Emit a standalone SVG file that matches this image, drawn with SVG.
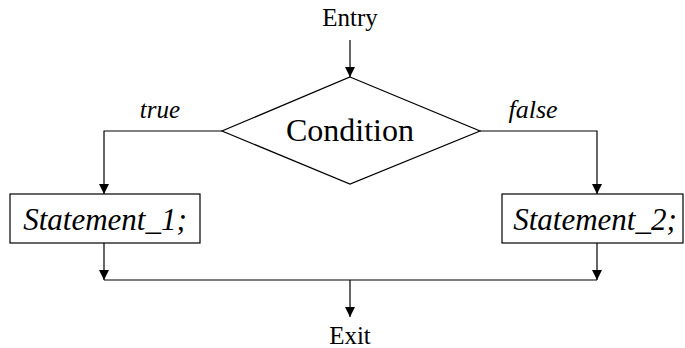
<svg xmlns="http://www.w3.org/2000/svg" width="685" height="348" viewBox="0 0 685 348">
<defs>
<marker id="ah" viewBox="0 0 10 10" refX="10" refY="5" markerWidth="10" markerHeight="10" markerUnits="userSpaceOnUse" orient="auto">
<path d="M0,0 L10,5 L0,10 z" fill="#000"/>
</marker>
<style>
.ln{fill:none;stroke:#000;stroke-width:1.2}
.sh{fill:#fff;stroke:#000;stroke-width:1.2}
text{font-family:"Liberation Serif","Times New Roman","DejaVu Serif",serif;fill:#000;text-anchor:middle}
.it{font-style:italic}
</style>
</defs>
<rect width="685" height="348" fill="#fff"/>
<g id="connectors">
<line class="ln" x1="350" y1="40" x2="350" y2="77" marker-end="url(#ah)"/>
<polyline class="ln" points="222,131 104,131 104,194" marker-end="url(#ah)"/>
<polyline class="ln" points="480,131 597,131 597,194" marker-end="url(#ah)"/>
<line class="ln" x1="104" y1="243" x2="104" y2="280" marker-end="url(#ah)"/>
<line class="ln" x1="597" y1="243" x2="597" y2="280" marker-end="url(#ah)"/>
<line class="ln" x1="104" y1="280" x2="597" y2="280"/>
<line class="ln" x1="350" y1="280" x2="350" y2="317" marker-end="url(#ah)"/>
<text class="it" x="160" y="118" font-size="25">true</text>
<text class="it" x="533" y="118" font-size="26">false</text>
</g>
<g id="entry"><text x="350" y="26" font-size="25">Entry</text></g>
<g id="condition">
<polygon class="sh" points="350,77 480,131 350,184 222,131"/>
<text x="350" y="141" font-size="32">Condition</text>
</g>
<g id="statement1">
<rect class="sh" x="10" y="194" width="190" height="49"/>
<text class="it" x="105" y="230" font-size="31">Statement_1;</text>
</g>
<g id="statement2">
<rect class="sh" x="502" y="194" width="181" height="49"/>
<text class="it" x="595" y="230" font-size="31">Statement_2;</text>
</g>
<g id="exit"><text x="350" y="344" font-size="25">Exit</text></g>
</svg>
